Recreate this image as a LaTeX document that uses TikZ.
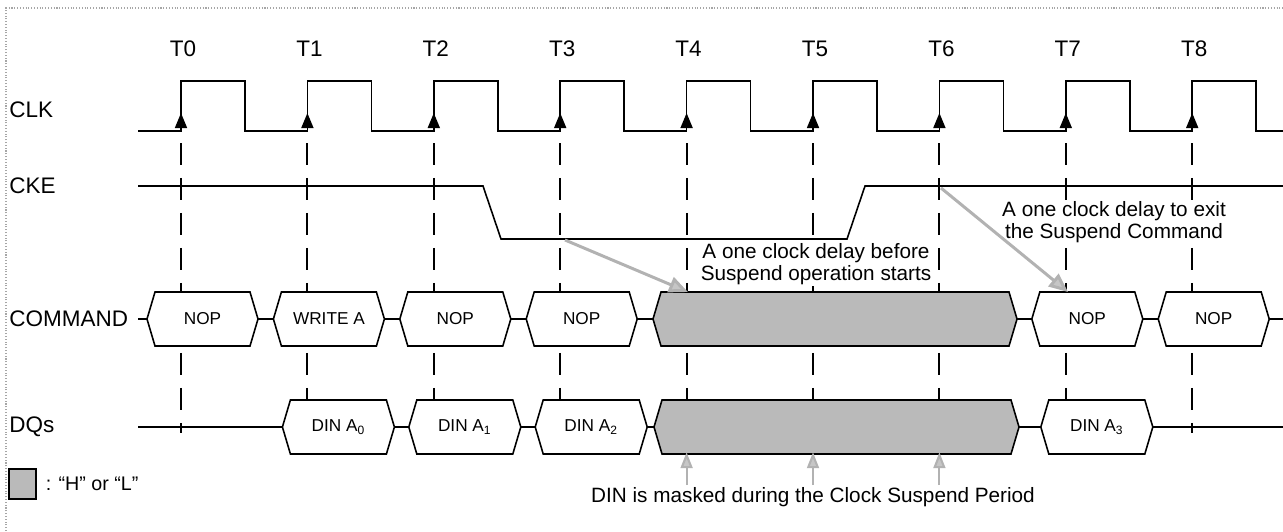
\documentclass[tikz,border=0pt]{standalone}
\usepackage{fontspec}
\setmainfont{Liberation Sans}
\usetikzlibrary{positioning,arrows.meta}
\tikzset{
  sig/.style={line width=0.9pt},
  guide/.style={line width=1.1pt,dash pattern=on 0.44cm off 0.26cm},
  bus/.style={draw,line width=0.9pt,fill=white},
  masked/.style={draw,line width=0.9pt,fill=black!27},
  edgetip/.style={line width=0.9pt,-{Triangle[length=0.3cm,width=0.24cm]}},
  grayarrow/.style={draw=gray!60,line width=1.7pt,-{Triangle[length=0.38cm,width=0.32cm,fill=gray!45]}},
  maskarrow/.style={draw=gray!60,line width=1.2pt,-{Triangle[length=0.32cm,width=0.24cm,fill=gray!45]}},
  signame/.style={font=\fontsize{12.8}{14}\selectfont,anchor=west,inner sep=0pt},
  tlabel/.style={font=\fontsize{12.8}{14}\selectfont,inner sep=0pt},
  busnote/.style={font=\fontsize{9.8}{11}\selectfont,inner sep=0pt},
  note/.style={font=\fontsize{11.8}{12.5}\selectfont,align=center,fill=white,inner sep=1pt},
  legtext/.style={font=\fontsize{11.2}{12}\selectfont,inner sep=0pt}
}
% one bus cell: style, name, left tip, right tip, mid y, text
\newcommand{\buscell}[6]{%
  \draw[#1] (#3,#5) -- ({#3+8},{#5-27}) -- ({#4-8},{#5-27}) -- (#4,#5)
    -- ({#4-8},{#5+27}) -- ({#3+8},{#5+27}) -- cycle;
  \node[busnote] (#2) at ({(#3+#4)/2},#5) {#6};}
\begin{document}
\begin{tikzpicture}[x=0.02cm,y=-0.02cm]
  \useasboundingbox (0,0) rectangle (1283,531);
  \draw[gray!70,densely dotted,line width=0.6pt] (6,531) -- (6,8) -- (1283,8);

  % clock edges
  \foreach \i in {0,...,8}
    \coordinate (e\i) at ({181+126.4*\i},131);

  % guide lines
  \foreach \i in {1,...,7}
    \draw[guide] (e\i) ++(0,12) -- ++(0,257);
  \foreach \i in {0,8}
    \draw[guide] (e\i) ++(0,12) -- ++(0,290);

  % signal names
  \node[signame] (clk) at (9,110) {CLK};
  \node[signame] (cke) at (9,186) {CKE};
  \node[signame] (cmd) at (9,319) {COMMAND};
  \node[signame] (dqs) at (9,427) {DQs};

  % CLK
  \draw[sig] (138,131) \foreach \i in {0,...,8} {
      -- (e\i) -- ++(0,-50) -- ++(64,0) -- ++(0,50) } -- (1283,131);
  \foreach \i in {0,...,8} {
    \draw[edgetip] (e\i) -- ++(0,-18);
    \node[tlabel,above=1.48cm of e\i,xshift=0.04cm] (t\i) {T\i};
  }

  % CKE
  \draw[sig] (138,186) -- (483,186) -- (501,239) -- (847,239) -- (865,186) -- (1283,186);

  % COMMAND
  \draw[sig] (138,319) -- (1283,319);
  \foreach \i/\txt in {0/NOP,1/WRITE A,2/NOP,3/NOP,7/NOP,8/NOP} {
    \pgfmathsetmacro{\xl}{181+126.4*\i-34}
    \pgfmathsetmacro{\xr}{\xl+111}
    \buscell{bus}{cmd\i}{\xl}{\xr}{319}{\txt}
  }
  \buscell{masked}{cmdmask}{653}{1017}{319}{}

  % DQs
  \draw[sig] (138,427) -- (1283,427);
  \foreach \i/\k in {1/0,2/1,3/2,7/3} {
    \pgfmathsetmacro{\xl}{181+126.4*\i-25}
    \pgfmathsetmacro{\xr}{\xl+112}
    \buscell{bus}{dq\k}{\xl}{\xr}{427}{DIN A\textsubscript{\k}}
  }
  \buscell{masked}{dqmask}{654}{1019}{427}{}

  % notes
  \node[note] (enternote) at (816,264) {A one clock delay before\\Suspend operation starts};
  \node[note] (exitnote) at (1114,222) {A one clock delay to exit\\the Suspend Command};
  \node[note,fill=none] (masknote) at (813,497) {DIN is masked during the Clock Suspend Period};

  \coordinate (enterfrom) at (565,240);
  \coordinate (enterto) at (688,292);
  \coordinate (exitfrom) at (941,188);
  \coordinate (exitto) at (1068,292);
  \draw[grayarrow] (enterfrom) -- (enterto);
  \draw[grayarrow] (exitfrom) -- (exitto);
  \foreach \i in {4,5,6}
    \draw[maskarrow] (masknote.north -| e\i) -- ++(0,-33);

  % legend
  \node[draw,fill=black!27,line width=0.9pt,minimum width=0.54cm,minimum height=0.6cm,
        inner sep=0pt,anchor=north west] (legbox) at (8,468) {};
  \node[legtext,right=0.18cm of legbox] (legend) {: “H” or “L”};
\end{tikzpicture}
\end{document}
